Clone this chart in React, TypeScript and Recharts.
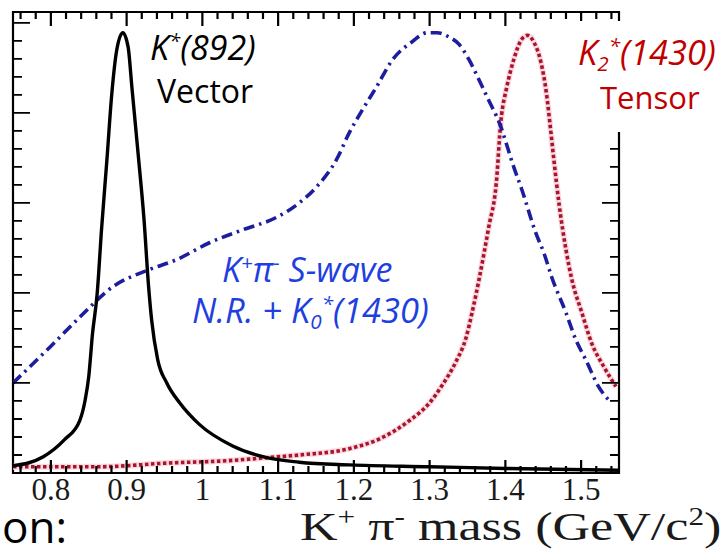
import React from 'react';
import { LineChart, Line, XAxis, YAxis, ReferenceArea } from 'recharts';

// K+ pi- invariant mass (GeV/c^2) and relative yield for each component

const vectorMass = [
  0.75, 0.79, 0.818, 0.838, 0.845, 0.85, 0.855, 0.861, 0.867, 0.874, 0.88, 0.887, 0.895,
  0.902, 0.907, 0.915, 0.923, 0.929, 0.933, 0.941, 0.953, 0.97, 0.996, 1.04, 1.085,
  1.128, 1.194, 1.3, 1.4, 1.55,
];
const vectorYield = [
  0.08, 0.18, 0.37, 0.58, 0.8, 1.07, 1.55, 1.98, 2.72, 3.48, 4.17, 4.7, 4.89,
  4.73, 4.28, 3.56, 2.81, 2.07, 1.7, 1.26, 1.0, 0.78, 0.54, 0.3, 0.17,
  0.12, 0.09, 0.07, 0.05, 0.03,
];

const swaveMass = [
  0.75, 0.799, 0.838, 0.882, 0.93, 0.966, 1.01, 1.053, 1.098, 1.128, 1.151, 1.177,
  1.194, 1.211, 1.23, 1.251, 1.277, 1.297, 1.31, 1.326, 1.339, 1.352, 1.365, 1.378,
  1.392, 1.411, 1.422, 1.44, 1.451, 1.461, 1.48, 1.493, 1.506, 1.523, 1.54,
];
const swaveYield = [
  1.0, 1.4, 1.73, 2.07, 2.26, 2.37, 2.56, 2.7, 2.84, 3.0, 3.18, 3.48,
  3.78, 4.03, 4.29, 4.59, 4.79, 4.89, 4.89, 4.84, 4.76, 4.59, 4.37, 4.14,
  3.89, 3.4, 3.14, 2.67, 2.44, 2.18, 1.78, 1.48, 1.26, 0.96, 0.78,
];

const tensorMass = [
  0.75, 0.865, 0.953, 1.04, 1.085, 1.128, 1.194, 1.234, 1.273, 1.3, 1.317, 1.335,
  1.348, 1.356, 1.365, 1.378, 1.388, 1.394, 1.402, 1.411, 1.421, 1.429, 1.438, 1.447,
  1.454, 1.459, 1.464, 1.471, 1.48, 1.488, 1.501, 1.514, 1.53, 1.546,
];
const tensorYield = [
  0.07, 0.07, 0.11, 0.14, 0.17, 0.2, 0.27, 0.38, 0.58, 0.78, 0.98, 1.24,
  1.5, 1.78, 2.14, 2.73, 3.22, 3.9, 4.29, 4.59, 4.81, 4.86, 4.78, 4.56,
  4.23, 3.87, 3.48, 2.98, 2.48, 2.14, 1.78, 1.44, 1.18, 0.96,
];

const massLabels = ['0.8', '0.9', '1', '1.1', '1.2', '1.3', '1.4', '1.5'];

const toRows = (xs: number[], ys: number[]) => xs.map((mass, i) => ({ mass, value: ys[i] }));
const vectorRows = toRows(vectorMass, vectorYield);
const swaveRows = toRows(swaveMass, swaveYield);
const tensorRows = toRows(tensorMass, tensorYield);

// tick positions: minor every 0.02 GeV on x, every 0.2 on y
const xTicks: number[] = [];
for (let i = 38; i <= 77; i++) xTicks.push(+(i * 0.02).toFixed(2));
const yTicks: number[] = [];
for (let i = 1; i <= 25; i++) yTicks.push(+(i * 0.2).toFixed(1));

const W = 723;
const H = 549;
const PLOT = { left: 13, right: 619, top: 12, bottom: 473 };

const isWhole = (v: number, step: number) => Math.abs(v / step - Math.round(v / step)) < 1e-6;

// ticks point inward on all four sides, like a ROOT frame
const MassTick = (props: any) => {
  const { x, payload } = props;
  const v = payload.value;
  const major = isWhole(v, 0.1);
  const label = major ? massLabels.find((l) => Math.abs(parseFloat(l) - v) < 1e-6) : null;
  const px = Number(x);
  return (
    <g>
      <path
        d={`M${px},${PLOT.bottom}V${PLOT.bottom - (major ? 13 : 7)}M${px},${PLOT.top}V${PLOT.top + (major ? 14 : 7)}`}
        stroke="#000"
        strokeWidth={2.2}
        fill="none"
      />
      {label && (
        <text x={px} y={500} textAnchor="middle" fontFamily="'Liberation Serif', serif" fontSize={31} fill="#1a1a1a">
          {label}
        </text>
      )}
    </g>
  );
};

const YieldTick = (props: any) => {
  const { y, payload } = props;
  const major = isWhole(payload.value, 1);
  const len = major ? 17 : 9;
  return (
    <path
      d={`M${PLOT.left},${y}H${PLOT.left + len}M${PLOT.right},${y}H${PLOT.right - len}`}
      stroke="#000"
      strokeWidth={1.8}
      fill="none"
    />
  );
};

const calibri = "'Open Sans', 'Noto Sans', sans-serif";
const sup: React.CSSProperties = { fontSize: '0.6em', position: 'relative', top: '-0.6em', lineHeight: 0 };
const sub: React.CSSProperties = { fontSize: '0.6em', position: 'relative', top: '0.3em', lineHeight: 0 };

const label = (left: number, top: number, color: string, italic: boolean, size = 32): React.CSSProperties => ({
  position: 'absolute',
  left,
  top,
  color,
  fontFamily: calibri,
  fontStyle: italic ? 'italic' : 'normal',
  fontSize: size,
  lineHeight: 1,
  whiteSpace: 'nowrap',
});

export default function App() {
  return (
    <div style={{ position: 'absolute', left: 0, top: 0, width: W, height: H, background: '#fff', overflow: 'hidden' }}>
      <LineChart width={W} height={H} margin={{ top: PLOT.top, right: W - PLOT.right, bottom: 0, left: 0 }}>
        <Line data={tensorRows} dataKey="value" type="monotone" stroke="#fadbe0" strokeWidth={6} dot={false} isAnimationActive={false} />
        <Line data={tensorRows} dataKey="value" type="monotone" stroke="#a8142e" strokeWidth={3.6} strokeDasharray="3.5 2.5" dot={false} isAnimationActive={false} />
        <Line data={swaveRows} dataKey="value" type="monotone" stroke="#1d1d9e" strokeWidth={3.6} strokeDasharray="11 5 2.5 5" dot={false} isAnimationActive={false} />
        <Line data={vectorRows} dataKey="value" type="monotone" stroke="#000" strokeWidth={3.4} dot={false} isAnimationActive={false} />
        <XAxis
          dataKey="mass"
          type="number"
          domain={[0.75, 1.55]}
          allowDataOverflow
          ticks={xTicks}
          interval={0}
          height={H - PLOT.bottom}
          axisLine={false}
          tickLine={false}
          tickSize={0}
          tickMargin={0}
          tick={<MassTick />}
        />
        <YAxis
          type="number"
          domain={[0, 5.12]}
          allowDataOverflow
          ticks={yTicks}
          interval={0}
          width={PLOT.left}
          axisLine={false}
          tickLine={false}
          tickSize={0}
          tickMargin={0}
          tick={<YieldTick />}
        />
        <ReferenceArea x1={0.75} x2={1.55} y1={0} y2={5.12} fill="none" stroke="#000" strokeWidth={2.2} />
      </LineChart>

      <div style={label(150, 30, '#000', true, 34)}>
        K<span style={sup}>*</span>(892)
      </div>
      <div style={label(157, 75, '#000', false)}>Vector</div>

      <div style={label(222, 252, '#1f3fe0', true, 34)}>
        K<span style={sup}>+</span>π<span style={sup}>-</span> S-wave
      </div>
      <div style={label(192, 293, '#1f3fe0', true, 34.5)}>
        N.R. + K<span style={sub}>0</span>
        <span style={sup}>*</span>(1430)
      </div>

      <div style={{ position: 'absolute', left: 553, top: 21, width: W - 553, height: 111, background: '#fff' }} />
      <div style={label(578, 35, '#c00000', true, 34.5)}>
        K<span style={sub}>2</span>
        <span style={sup}>*</span>(1430)
      </div>
      <div style={label(600, 82, '#c00000', false, 31)}>Tensor</div>

      <div style={{ position: 'absolute', left: 2, top: 504, fontFamily: calibri, fontSize: 44, lineHeight: 1, color: '#000' }}>
        on:
      </div>
      <div
        style={{
          position: 'absolute',
          left: 300,
          top: 506,
          fontFamily: "'Liberation Serif', serif",
          fontSize: 41,
          lineHeight: 1,
          color: '#1a1a1a',
          whiteSpace: 'nowrap',
          transform: 'scaleX(1.27)',
          transformOrigin: 'left top',
        }}
      >
        K<span style={sup}>+</span> π<span style={sup}>-</span> mass (GeV/c<span style={sup}>2</span>)
      </div>
    </div>
  );
}
